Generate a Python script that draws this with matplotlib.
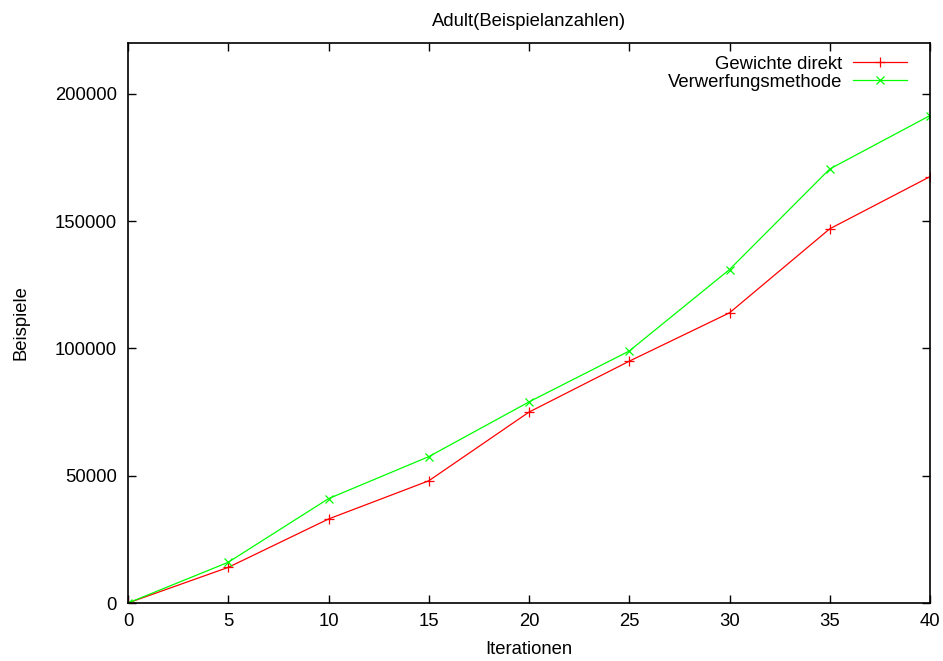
import matplotlib.pyplot as plt

plt.rcParams['font.family'] = ['Liberation Sans', 'DejaVu Sans']

iterationen = [0, 5, 10, 15, 20, 25, 30, 35, 40]
gewichte_direkt = [0, 14000, 33000, 48000, 75000, 95000, 114000, 147000, 167500]
verwerfungsmethode = [0, 16000, 41000, 57500, 79000, 99000, 131000, 170500, 191500]

fs = 13.3

fig = plt.figure(figsize=(9.43, 6.61), dpi=100)
ax = fig.add_axes([128 / 943, 58 / 661, 802 / 943, 560 / 661])

ax.plot(iterationen, gewichte_direkt, color='#ff0000', lw=0.9, marker='+',
        markersize=7, markeredgewidth=0.9, label='Gewichte direkt')
ax.plot(iterationen, verwerfungsmethode, color='#00ff00', lw=0.9, marker='x',
        markersize=6, markeredgewidth=0.9, label='Verwerfungsmethode')

ax.set_xlim(0, 40)
ax.set_ylim(0, 220000)
ax.set_xticks(range(0, 41, 5))
ax.set_yticks(range(0, 200001, 50000))
ax.tick_params(direction='in', length=6, width=1, top=True, right=True,
               labelsize=fs, colors='black')
ax.tick_params(axis='x', pad=7)
ax.tick_params(axis='y', pad=8)
for s in ax.spines.values():
    s.set_linewidth(1.2)

ax.set_title('Adult(Beispielanzahlen)', fontsize=fs, pad=12)
ax.set_xlabel('Iterationen', fontsize=fs, labelpad=8)
ax.set_ylabel('Beispiele', fontsize=fs, labelpad=18)

ax.legend(loc='upper right', bbox_to_anchor=(0.987, 1.0), frameon=False,
          markerfirst=False, fontsize=fs, handlelength=2.9, handletextpad=0.6,
          labelspacing=0.05, borderpad=0.2)

fig.savefig('out.png', dpi=100)
